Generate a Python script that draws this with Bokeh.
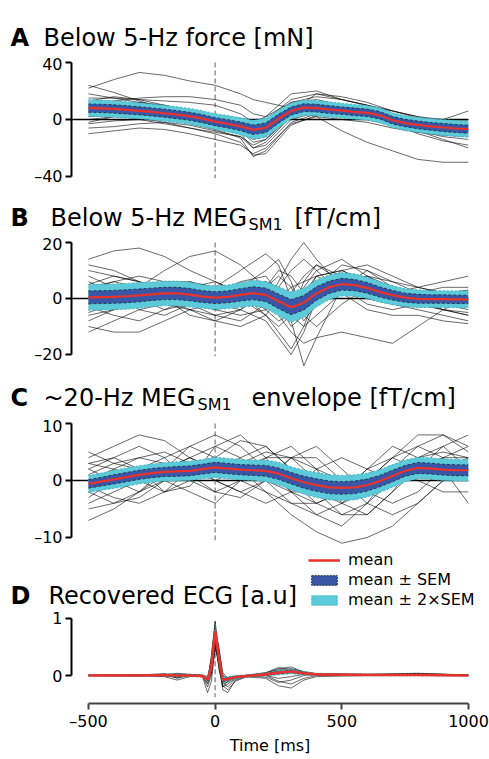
import numpy as np
from bokeh.plotting import figure
from bokeh.models import Range1d, FixedTicker, Span, Legend, LegendItem
from bokeh.core.properties import value
from bokeh.embed import file_html
from bokeh.resources import INLINE

FONT = "DejaVu Sans"
RED = "#e8322b"
BLUE = "#3a57a7"
CYAN = "#5ccad8"
EDGE = "#17324a"
EDGE2 = "#3aa7b7"
GREY = "#9a9a9a"

# ---------------- data ----------------
t_band = [-500, -450, -400, -350, -300, -250, -200, -150, -100, -50, 0, 50, 100, 150, 200, 250,
          300, 350, 400, 450, 500, 550, 600, 650, 700, 750, 800, 850, 900, 950, 1000]

meanA = [8.0, 7.8, 7.4, 6.8, 6.1, 5.3, 4.4, 3.4, 2.2, 0.6, -1.5, -3.0, -4.8, -7.2, -5.8, 0.5,
         6.0, 8.3, 8.0, 7.0, 6.2, 5.4, 4.7, 3.0, -0.5, -2.5, -3.8, -4.8, -5.6, -6.3, -6.8]
semA = [2.9, 2.9, 2.9, 2.9, 2.8, 2.8, 2.8, 2.8, 2.8, 2.8, 2.8, 2.9, 3.0, 3.3, 3.4, 3.1,
        2.8, 2.7, 2.7, 2.7, 2.6, 2.6, 2.6, 2.6, 2.6, 2.6, 2.7, 2.7, 2.8, 2.8, 2.8]

meanB = [0.4, 0.5, 0.6, 0.8, 1.1, 1.5, 1.8, 1.8, 1.4, 0.7, 0.3, 0.6, 1.3, 1.9, 1.3, -1.0,
         -3.1, -1.5, 1.8, 4.0, 5.1, 4.8, 3.8, 2.3, 1.2, 0.3, -0.1, -0.2, -0.2, -0.3, -0.3]
semB = [2.3, 2.3, 2.3, 2.3, 2.3, 2.2, 2.2, 2.2, 2.2, 2.1, 2.1, 2.1, 2.2, 2.3, 2.4, 2.6,
        2.7, 2.6, 2.4, 2.2, 2.1, 2.0, 1.9, 1.8, 1.7, 1.6, 1.6, 1.5, 1.5, 1.5, 1.5]

meanC = [-0.6, -0.2, 0.2, 0.6, 1.0, 1.3, 1.5, 1.6, 1.7, 2.0, 2.3, 2.1, 1.9, 1.8, 1.7, 1.2,
         0.4, -0.3, -0.8, -1.2, -1.3, -1.2, -0.8, -0.1, 0.8, 1.7, 2.2, 2.1, 1.9, 1.8, 1.8]
semC = [0.75, 0.75, 0.8, 0.8, 0.8, 0.8, 0.8, 0.85, 0.85, 0.85, 0.9, 0.9, 0.9, 0.9, 0.95, 1.0,
        1.0, 1.05, 1.1, 1.1, 1.1, 1.1, 1.05, 1.0, 1.0, 0.95, 0.95, 0.95, 0.95, 0.95, 0.95]

tA = [-500, -400, -300, -200, -100, 0, 100, 150, 200, 300, 400, 500, 600, 700, 800, 900, 1000]
linesA = [
    [22, 28, 33, 31, 27, 24, 18, 14, 12, 8, 2, -8, -16, -22, -28, -30, -30],
    [24, 19, 13, 8, 3, -2, -8, -14, -12, 6, 18, 14, 10, 6, 2, 0, 0],
    [15, 15, 14, 13, 12, 10, 4, -2, 2, 18, 20, 14, 10, 4, 0, -2, -3],
    [12, 13, 15, 16, 16, 14, 10, 4, 2, 12, 16, 14, 10, 6, 2, -2, -4],
    [10, 9, 8, 7, 5, 2, -3, -8, -5, 8, 10, 8, 6, 2, -3, -6, -8],
    [8, 7, 6, 5, 3, 0, -5, -12, -10, 4, 8, 6, 4, 0, -5, -8, -10],
    [6, 7, 7, 5, 2, -2, -8, -16, -14, 2, 6, 6, 3, -2, -8, -12, -14],
    [4, 5, 4, 2, -1, -4, -10, -20, -18, 0, 5, 4, 2, -3, -10, -15, -18],
    [2, 3, 3, 1, -3, -7, -13, -26, -22, -2, 4, 3, 1, -3, -8, -14, -20],
    [0, 2, 1, -2, -6, -10, -16, -25, -24, -4, 3, 2, 0, -4, -8, -10, -12],
    [-3, -1, 0, 1, 0, -2, -6, -12, -8, 6, 9, 7, 4, 0, -3, -4, -5],
    [-6, -5, -3, -2, -4, -8, -12, -20, -16, 2, 6, 4, 1, -4, -9, -10, -11],
    [-10, -8, -6, -7, -10, -14, -18, -24, -20, -3, 2, 0, -2, -6, -9, -11, -12],
    [13, 16, 14, 10, 6, 2, 1, -2, 0, 10, 12, 8, 5, 2, 0, 0, 0],
    [8, 10, 12, 10, 6, 2, -2, -8, -4, 12, 14, 10, 6, 2, -2, 0, 6],
    [18, 15, 12, 9, 6, 3, 0, -4, 0, 14, 18, 16, 12, 6, 1, -1, -1],
    [5, 3, 0, -3, -6, -9, -12, -18, -14, 4, 8, 6, 3, -1, -5, -6, -7],
    [-2, 2, 4, 3, 1, -2, -5, -9, -4, 8, 10, 8, 6, 2, -2, -4, -4],
]

tB = [-500, -400, -300, -200, -100, 0, 100, 200, 250, 300, 350, 400, 500, 600, 700, 800, 900, 1000]
linesB = [
    [14, 17, 18, 15, 10, 6, 2, -4, -8, -6, 2, 8, 10, 6, 2, 0, -2, -3],
    [-5, -2, 4, 10, 15, 17, 12, 4, -2, -10, -6, 4, 8, 4, 0, -2, -4, -6],
    [8, 4, 0, -4, -2, 4, 10, 16, 12, 0, -8, -2, 6, 8, 4, 2, 2, 3],
    [-10, -12, -12, -8, -4, -6, -8, -2, 6, 14, 20, 14, 4, -2, -4, -2, 0, 2],
    [3, 6, 8, 6, 2, -2, 0, 6, 4, -8, -24, -14, 4, 10, 6, 2, 0, -1],
    [-6, -4, 0, 4, 2, -2, -4, -8, -14, -20, -12, 0, 6, 4, 2, 4, 6, 8],
    [6, 2, -4, -6, -2, 2, 6, 8, 2, -6, -10, -6, 2, 4, 2, 0, -4, -6],
    [0, 3, 5, 3, -2, -4, -2, 4, 10, 8, 2, 4, 12, 10, 4, 0, -2, -2],
    [10, 8, 6, 2, -2, -6, -4, 2, 0, -4, 0, 8, 10, 6, 2, 0, -2, -4],
    [-3, -6, -8, -4, 0, 2, 4, 0, -6, -12, -16, -14, -12, -14, -16, -10, -4, 0],
    [2, 0, -2, 0, 4, 6, 2, -6, -10, -6, 6, 12, 8, 2, 0, 2, 4, 4],
    [-8, -4, 2, 6, 6, 2, -2, 0, 4, 10, 14, 10, 2, -4, -6, -6, -8, -9],
    [5, 8, 6, 0, -6, -8, -4, 4, 8, 4, -4, -2, 6, 8, 6, 4, 2, 0],
    [-2, -4, -2, 2, 6, 4, 0, -6, -12, -18, -10, 2, 10, 12, 8, 4, 2, 2],
    [12, 10, 6, 4, 2, 0, 4, 10, 14, 6, -6, -10, -2, 4, 2, -2, -4, -5],
    [-12, -8, -4, -2, -4, -8, -10, -6, 0, 4, 6, 8, 4, 0, -2, -4, -6, -8],
    [4, 6, 4, 0, -4, -2, 4, 6, 2, -2, 4, 10, 14, 8, 2, -2, 0, 2],
    [-4, -2, 0, 2, 0, -4, -6, -4, -2, 2, 8, 12, 6, 0, -2, -3, -2, -1],
]

tC = [-500, -400, -300, -200, -100, 0, 100, 200, 300, 400, 500, 600, 700, 800, 900, 1000]
linesC = [
    [-7, -5, -2, 1, 3, 4, 2, -2, -6, -9, -11, -10, -8, -4, 0, 2],
    [4, 6, 8, 7, 4, 2, 3, 5, 4, 0, -2, 0, 4, 8, 8, 6],
    [2, 0, -2, 2, 6, 8, 6, 2, -2, -4, -2, 2, 6, 4, 2, 3],
    [-2, -4, -3, 0, 2, 0, -2, 0, 4, 6, 2, -2, -4, -2, 2, 4],
    [3, 4, 2, -2, -1, 4, 7, 6, 2, -2, -6, -6, -2, 2, 4, 4],
    [0, 2, 4, 5, 3, 0, -2, -4, -2, 2, 4, 2, 0, 2, 6, 8],
    [-4, -2, 0, 2, 4, 6, 4, 0, -4, -6, -4, 0, 4, 6, 4, 0],
    [1, 3, 4, 3, 1, -2, -3, 0, 4, 4, 0, -4, -6, -4, 0, 2],
    [-3, 0, 2, 4, 6, 4, 2, 0, -2, -2, -1, 0, 2, 4, 5, 4],
    [5, 3, 2, 0, -2, -4, 0, 4, 6, 2, -4, -6, -2, 4, 6, 2],
    [-1, -3, -4, -2, 2, 4, 2, 2, 0, -4, -6, -4, 0, 2, 2, -4],
    [2, 4, 6, 4, 0, -2, 0, 2, 2, 0, -2, -2, 2, 6, 8, 5],
    [-5, -4, -2, 0, 0, 2, 4, 6, 2, -2, -4, -2, 2, 0, -2, -2],
    [0, -1, 0, 2, 4, 2, 0, -2, -4, -4, -2, 2, 4, 2, 0, 1],
    [3, 2, 0, -2, 0, 6, 8, 4, -2, -6, -8, -4, 2, 4, 3, 2],
    [-2, 0, 2, 2, 0, 0, 2, 4, 4, 2, 0, -2, 0, 2, 4, 6],
]

tD = [-500, -300, -200, -150, -100, -50, -30, -15, 0, 15, 30, 50, 80, 120, 200, 250, 300, 350,
      400, 600, 800, 1000]
meanD = [0.0, 0.0, 0.01, 0.0, 0.0, -0.01, -0.07, 0.15, 0.78, 0.3, -0.08, -0.06, -0.03, -0.01,
         0.02, 0.05, 0.07, 0.04, 0.02, 0.01, 0.01, 0.0]
semD = [0.005, 0.005, 0.01, 0.015, 0.01, 0.01, 0.02, 0.04, 0.06, 0.05, 0.03, 0.02, 0.015, 0.01,
        0.015, 0.02, 0.02, 0.015, 0.01, 0.008, 0.008, 0.005]
linesD = [
    [0, 0.01, 0.03, -0.05, 0.01, -0.02, -0.12, 0.35, 0.95, 0.4, -0.2, -0.1, -0.04, -0.02, 0.04, 0.12, 0.15, 0.06, 0.03, 0.02, 0.03, 0.01],
    [0, 0.0, 0.0, 0.02, 0.0, -0.01, -0.05, 0.1, 0.6, 0.25, -0.05, -0.08, -0.02, 0.0, 0.03, 0.08, 0.1, 0.05, 0.02, 0.0, 0.02, 0.0],
    [0.01, 0.0, -0.02, -0.08, -0.02, 0.0, -0.15, 0.05, 0.5, 0.2, -0.25, -0.3, -0.08, -0.02, -0.05, -0.18, -0.22, -0.08, -0.02, 0.0, 0.0, 0.0],
    [0, 0.0, 0.02, 0.03, 0.01, 0.0, -0.08, 0.25, 0.85, 0.35, -0.1, -0.12, -0.03, 0.0, 0.05, 0.1, 0.12, 0.06, 0.02, 0.01, 0.02, 0.0],
    [0, 0.01, 0.0, -0.03, 0.0, -0.02, -0.3, -0.1, 0.45, 0.3, 0.0, -0.05, -0.02, 0.0, 0.02, 0.04, 0.06, 0.03, 0.01, 0.02, 0.01, 0.0],
    [0, 0.0, 0.01, 0.0, 0.02, 0.0, -0.04, 0.2, 0.7, 0.1, -0.15, -0.1, -0.04, -0.01, 0.0, -0.1, -0.15, -0.05, 0.0, 0.01, 0.03, 0.01],
    [0, -0.01, 0.0, 0.04, 0.02, 0.01, -0.02, 0.15, 0.75, 0.45, 0.05, -0.05, -0.02, 0.0, 0.04, 0.09, 0.08, 0.04, 0.02, 0.01, 0.02, 0.0],
    [0, 0.0, -0.01, -0.02, 0.0, -0.01, -0.1, 0.05, 0.55, 0.15, -0.2, -0.15, -0.05, -0.01, 0.02, 0.06, 0.11, 0.07, 0.03, 0.01, 0.01, 0.0],
    [0, 0.01, 0.02, 0.01, 0.0, 0.0, -0.06, 0.3, 0.9, 0.2, -0.05, -0.04, -0.01, 0.0, -0.03, -0.12, -0.08, 0.0, 0.02, 0.02, 0.04, 0.01],
    [0, 0.0, 0.0, -0.04, 0.0, -0.01, -0.2, 0.0, 0.65, 0.3, -0.12, -0.2, -0.06, -0.02, 0.05, 0.14, 0.1, 0.04, 0.01, 0.0, 0.01, 0.0],
    [0, 0.0, 0.02, 0.02, 0.01, 0.0, -0.05, 0.12, 0.8, 0.5, 0.0, -0.06, -0.03, 0.0, 0.03, 0.07, 0.09, 0.05, 0.02, 0.01, 0.01, 0.0],
    [0, 0.0, 0.0, -0.02, 0.0, 0.0, -0.1, 0.2, 0.68, 0.22, -0.18, -0.25, -0.1, -0.03, 0.0, -0.05, -0.02, 0.02, 0.01, 0.0, 0.02, 0.0],
]

y_ticks_A = [-40, 0, 40]
y_ticks_B = [-20, 0, 20]
y_ticks_C = [-10, 0, 10]
y_ticks_D = [0, 1]
x_ticks = [-500, 0, 500, 1000]
event_time = 0
legend_labels = ["mean", "mean ± SEM", "mean ± 2×SEM"]

# ---------------- layout constants ----------------
W = 489
BL, BR = 71, 21
X_RANGE = (-567, 1000)


def make_fig(height, yr, top, bottom, xaxis=False):
    p = figure(width=W, height=height, x_range=Range1d(*X_RANGE), y_range=Range1d(*yr),
               output_backend="svg", toolbar_location=None,
               min_border_left=BL, min_border_right=BR, min_border_top=top,
               min_border_bottom=bottom,
               x_axis_location="below" if xaxis else None)
    p.grid.visible = False
    p.outline_line_color = None
    return p


def make_strip(height):
    s = figure(width=W, height=height, x_range=Range1d(0, W), y_range=Range1d(height, 0),
               output_backend="svg", toolbar_location=None, min_border=0,
               min_border_left=0, min_border_right=0, min_border_top=0, min_border_bottom=0,
               x_axis_location=None, y_axis_location=None)
    s.grid.visible = False
    s.outline_line_color = None
    return s


def strip_text(s, x, y, text, size="24px", bold=False):
    s.text(x=[x], y=[y], text=[text], text_font=value(FONT), text_font_size=value(size),
           text_font_style="bold" if bold else "normal", text_baseline="alphabetic",
           text_align="left", text_color="black")


def style_yaxis(p, ticks):
    ax = p.yaxis[0]
    ax.ticker = FixedTicker(ticks=ticks)
    ax.bounds = (min(ticks), max(ticks))
    ax.major_label_overrides = {t: ("–" + str(abs(t)) if t < 0 else str(t)) for t in ticks}
    ax.axis_line_width = 2
    ax.axis_line_color = "black"
    ax.major_tick_line_width = 2
    ax.major_tick_line_color = "black"
    ax.major_tick_in = 0
    ax.major_tick_out = 6
    ax.minor_tick_line_color = None
    ax.major_label_text_font = FONT
    ax.major_label_text_font_size = "16px"
    ax.major_label_text_color = "black"
    ax.major_label_standoff = 3


def draw_panel(p, t_lines, lines, tb, mean, sem, vline_ext, zero_line=True, red_w=2.2):
    if zero_line:
        p.add_layout(Span(location=0, dimension="width", line_color="black",
                          line_width=1.3, level="underlay"))
    p.segment(x0=[event_time], y0=[vline_ext[0]], x1=[event_time], y1=[vline_ext[1]],
              line_color=GREY, line_width=1.6, line_dash="5 3")
    for ln in lines:
        p.line(t_lines, ln, line_color="black", line_width=0.7, line_alpha=0.85)
    m = np.array(mean, dtype=float)
    s = np.array(sem, dtype=float)
    p.varea(x=tb, y1=m - 2 * s, y2=m + 2 * s, fill_color=CYAN, fill_alpha=1.0)
    p.varea(x=tb, y1=m - s, y2=m + s, fill_color=BLUE, fill_alpha=1.0)
    for yy in (m + 2 * s, m - 2 * s):
        p.line(tb, yy, line_color=EDGE2, line_width=0.8, line_dash="2 2")
    for yy in (m + s, m - s):
        p.line(tb, yy, line_color=EDGE, line_width=0.9, line_dash="3 2")
    return p.line(tb, m, line_color=RED, line_width=red_w)


# ---------------- Panel A ----------------
sA = make_strip(54)
strip_text(sA, 10, 37, "A", bold=True)
strip_text(sA, 43, 37, "Below 5-Hz force [mN]")
pA = make_fig(132, (-41.4, 41.4), 6, 8)
style_yaxis(pA, y_ticks_A)
draw_panel(pA, tA, linesA, t_band, meanA, semA, (40, -41.4))

# ---------------- Panel B ----------------
sB = make_strip(48)
strip_text(sB, 10, 31, "B", bold=True)
strip_text(sB, 50, 31, "Below 5-Hz MEG")
strip_text(sB, 248, 38, "SM1", size="16px")
strip_text(sB, 294, 31, "[fT/cm]")
pB = make_fig(136, (-25.71, 22.14), 2, 0)
style_yaxis(pB, y_ticks_B)
draw_panel(pB, tB, linesB, t_band, meanB, semB, (20, -20.6))

# ---------------- Panel C ----------------
sC = make_strip(46)
strip_text(sC, 10, 27, "C", bold=True)
strip_text(sC, 43, 27, "~20-Hz MEG")
strip_text(sC, 197, 34, "SM1", size="16px")
strip_text(sC, 251, 27, "envelope [fT/cm]")
pC = make_fig(134, (-12.28, 10.88), 2, 0)
style_yaxis(pC, y_ticks_C)
draw_panel(pC, tC, linesC, t_band, meanC, semC, (10, -10.5))

# ---------------- Panel D ----------------
sD = make_strip(60)
strip_text(sD, 10, 45, "D", bold=True)
strip_text(sD, 48, 45, "Recovered ECG [a.u]")

pD = make_fig(147, (-0.491, 1.140), 0, 54, xaxis=True)
style_yaxis(pD, y_ticks_D)
draw_panel(pD, tD, linesD, tD, meanD, semD, (0.95, -0.38), zero_line=False, red_w=2.6)

xa = pD.xaxis[0]
xa.ticker = FixedTicker(ticks=x_ticks)
xa.bounds = (min(x_ticks), max(x_ticks))
xa.major_label_overrides = {t: ("–" + str(abs(t)) if t < 0 else str(t)) for t in x_ticks}
xa.axis_line_width = 2
xa.axis_line_color = "#444444"
xa.major_tick_line_width = 2
xa.major_tick_line_color = "#444444"
xa.major_tick_in = 0
xa.major_tick_out = 6
xa.minor_tick_line_color = None
xa.major_label_text_font = FONT
xa.major_label_text_font_size = "16px"
xa.major_label_text_color = "black"
xa.major_label_standoff = 2
xa.axis_label = "Time [ms]"
xa.axis_label_text_font = FONT
xa.axis_label_text_font_size = "16px"
xa.axis_label_text_font_style = "normal"
xa.axis_label_text_color = "black"
xa.axis_label_standoff = 2

# legend keys (NaN data: drawn only as legend swatches), legend placed in the D title strip
nan = [float("nan")]
leg_mean = sD.line(x=nan, y=nan, line_color=RED, line_width=2.6)
leg_sem = sD.patch(x=nan, y=nan, fill_color=BLUE, line_color=EDGE, line_dash="2 1", line_width=1)
leg_2sem = sD.patch(x=nan, y=nan, fill_color=CYAN, line_color=EDGE2, line_dash="1 1", line_width=1)
legend = Legend(items=[LegendItem(label=legend_labels[0], renderers=[leg_mean]),
                       LegendItem(label=legend_labels[1], renderers=[leg_sem]),
                       LegendItem(label=legend_labels[2], renderers=[leg_2sem])],
                location=(308, 1), orientation="vertical",
                glyph_width=32, glyph_height=12, label_standoff=8, spacing=1,
                padding=0, margin=0, label_height=19,
                label_text_font=FONT, label_text_font_size="16px", label_text_color="black",
                border_line_color=None, background_fill_alpha=0)
sD.add_layout(legend)

roots = [sA, pA, sB, pB, sC, pC, sD, pD]
open("out.html", "w").write(file_html(roots, INLINE))
